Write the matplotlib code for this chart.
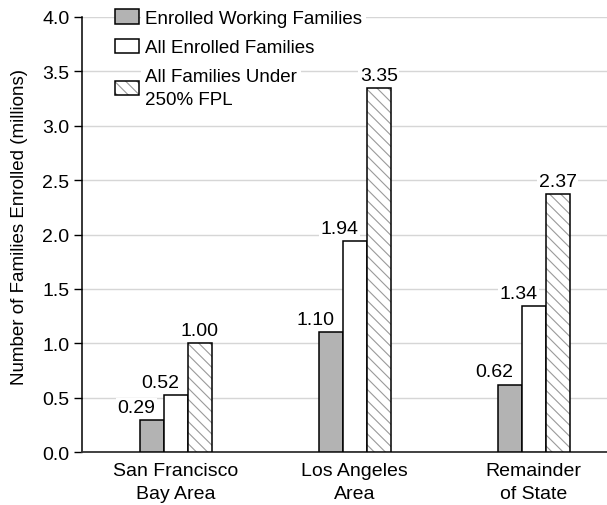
import matplotlib
matplotlib.use("Agg")
import matplotlib.pyplot as plt
import matplotlib.patches as mpatches
import numpy as np

categories = ["San Francisco\nBay Area", "Los Angeles\nArea", "Remainder\nof State"]
series_names = ["Enrolled Working Families", "All Enrolled Families", "All Families Under\n250% FPL"]
working = [0.29, 1.10, 0.62]
all_enrolled = [0.52, 1.94, 1.34]
under_250 = [1.00, 3.35, 2.37]
yticks = [0.0, 0.5, 1.0, 1.5, 2.0, 2.5, 3.0, 3.5, 4.0]

plt.rcParams['font.family'] = ['Liberation Sans', 'DejaVu Sans']
plt.rcParams['hatch.color'] = '#9a9a9a'
plt.rcParams['hatch.linewidth'] = 0.8

fig = plt.figure(figsize=(6.07, 5.06), dpi=100)
ax = fig.add_axes([82/607, 1 - 453/506, 1 - 82/607, (453 - 18)/506])

x = np.arange(len(categories))
w = 0.134
gray = '#b3b3b3'
fs = 14
lfs = 13.5

b1 = ax.bar(x - w, working, w, color=gray, edgecolor='black', linewidth=1.1, zorder=3)
b2 = ax.bar(x, all_enrolled, w, color='white', edgecolor='black', linewidth=1.1, zorder=3)
b3h = ax.bar(x + w, under_250, w, color='white', hatch='\\\\\\', linewidth=0, zorder=3)
b3o = ax.bar(x + w, under_250, w, fill=False, edgecolor='black', linewidth=1.1, zorder=4)

bbox = dict(facecolor='white', edgecolor='none', pad=1.0)
for xi, v in zip(x - w, working):
    ax.annotate(f"{v:.2f}", xy=(xi, v), xytext=(-11, 3), textcoords='offset points',
                ha='center', va='bottom', fontsize=fs, bbox=bbox, zorder=5)
for xi, v in zip(x, all_enrolled):
    ax.annotate(f"{v:.2f}", xy=(xi, v), xytext=(-11, 3), textcoords='offset points',
                ha='center', va='bottom', fontsize=fs, bbox=bbox, zorder=5)
for xi, v in zip(x + w, under_250):
    ax.annotate(f"{v:.2f}", xy=(xi, v), xytext=(0, 3), textcoords='offset points',
                ha='center', va='bottom', fontsize=fs, bbox=bbox, zorder=5)

ax.set_ylim(0, 4.0)
ax.set_xlim(-0.525, 2.41)
ax.set_yticks(yticks)
ax.set_yticklabels([f"{t:.1f}" for t in yticks], fontsize=fs)
ax.set_xticks(x)
ax.set_xticklabels(categories, fontsize=fs, linespacing=1.45)
ax.tick_params(axis='x', length=0, pad=7)
ax.tick_params(axis='y', length=6, width=1, direction='out', pad=3)
ax.yaxis.grid(True, color='#d6d6d6', linewidth=1.0, zorder=0)
ax.set_axisbelow(True)
for s in ['top', 'right']:
    ax.spines[s].set_visible(False)
ax.spines['left'].set_linewidth(1.1)
ax.spines['bottom'].set_linewidth(1.3)
ax.spines['bottom'].set_color('#333333')
ax.set_ylabel("Number of Families Enrolled (millions)", fontsize=lfs)
ax.yaxis.set_label_coords(-0.102, 0.52)

h1 = mpatches.Patch(facecolor=gray, edgecolor='black', linewidth=1.1)
h2 = mpatches.Patch(facecolor='white', edgecolor='black', linewidth=1.1)
h3a = mpatches.Patch(facecolor='white', hatch='\\\\\\', linewidth=0)
h3b = mpatches.Patch(fill=False, edgecolor='black', linewidth=1.1)
leg = ax.legend([h1, h2, (h3a, h3b)], series_names, loc='upper left',
                bbox_to_anchor=(0.062, 1.018), frameon=False, fontsize=lfs,
                handlelength=1.28, handleheight=0.8, handletextpad=0.33,
                labelspacing=0.63, borderpad=0, borderaxespad=0)
leg.set_zorder(6)
for t in leg.get_texts():
    t.set_linespacing(1.45)
    t.set_bbox(dict(facecolor='white', edgecolor='none', pad=3))

fig.savefig("out.png", dpi=100)
